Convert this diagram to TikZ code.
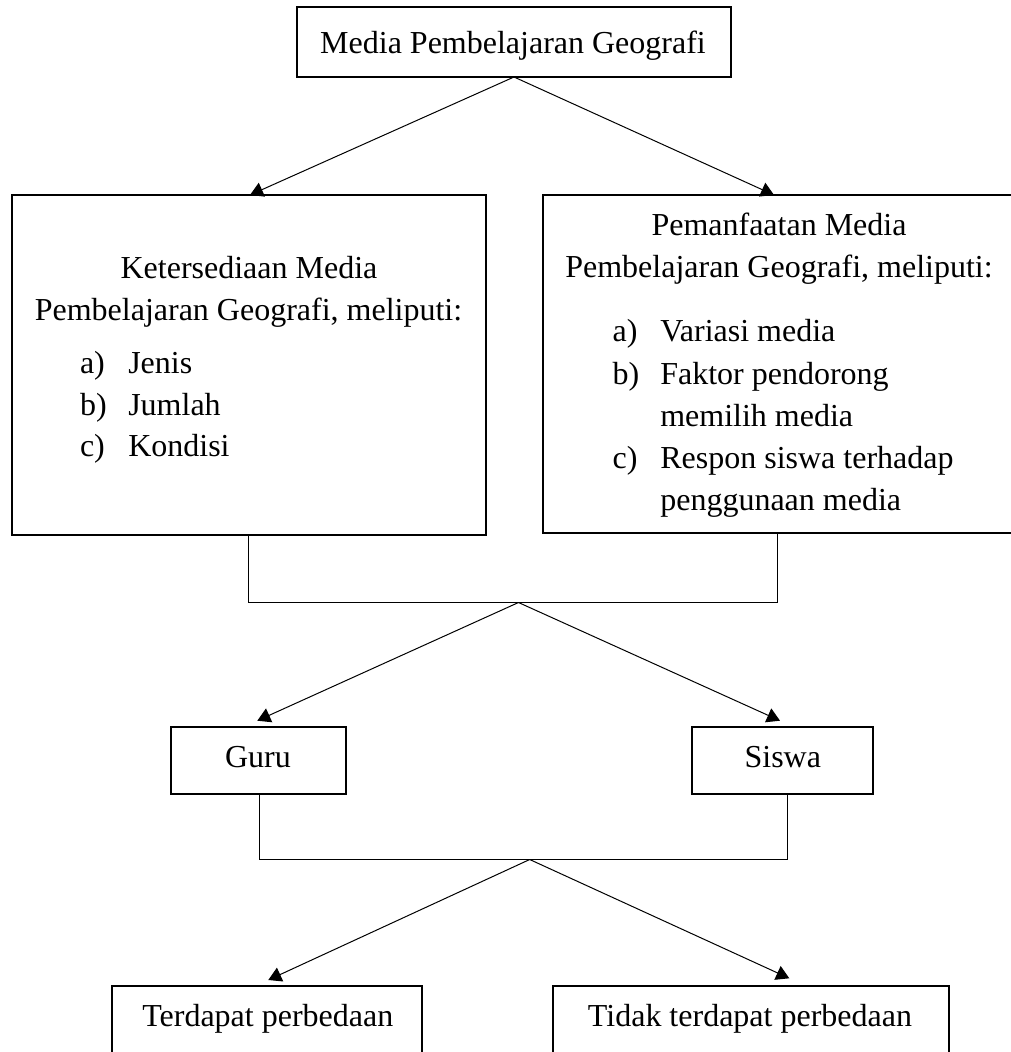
\documentclass[tikz,border=0pt]{standalone}
\usepackage{fontspec}
\setmainfont{Liberation Serif}
\usetikzlibrary{arrows.meta}
\begin{document}
\begin{tikzpicture}[x=1pt,y=-1pt,
  box/.style={draw, line width=2pt, rectangle, inner sep=0pt, outer sep=0pt},
  txt/.style={inner sep=0pt, outer sep=0pt, font=\fontsize{32}{42}\selectfont},
  link/.style={line width=1pt},
  arr/.style={line width=1pt, -{Triangle[length=13pt,width=15pt]}}]
\useasboundingbox (0,0) rectangle (1011,1052);
\clip (0,0) rectangle (1011,1052);

% boxes
\node[box, minimum width=434pt, minimum height=70pt] (top) at (514,42) {};
\node[box, minimum width=474pt, minimum height=340pt] (lb) at (248.7,365) {};
\node[box, minimum width=473.3pt, minimum height=338pt] (rb) at (779.3,364) {};
\node[box, minimum width=175pt, minimum height=67.3pt] (guru) at (258.5,760.3) {};
\node[box, minimum width=181pt, minimum height=67.3pt] (siswa) at (782.8,760.3) {};
\node[box, minimum width=310.6pt, minimum height=90pt] (bl) at (267,1031) {};
\node[box, minimum width=396.3pt, minimum height=90pt] (br) at (750.8,1031) {};

% texts
\node[txt, anchor=base] (toptxt) at (513,53.3) {Media Pembelajaran Geografi};

\node[txt, anchor=base] (lt1) at (249,278.3) {Ketersediaan Media};
\node[txt, anchor=base] (lt2) at (248.5,320) {Pembelajaran Geografi, meliputi:};
\node[txt, anchor=base west] (la) at (80,373.3) {a)};
\node[txt, anchor=base west] (lat) at (128.3,373.3) {Jenis};
\node[txt, anchor=base west] (lb1) at (80,415) {b)};
\node[txt, anchor=base west] (lbt) at (128.3,415) {Jumlah};
\node[txt, anchor=base west] (lc) at (80,456.7) {c)};
\node[txt, anchor=base west] (lct) at (128.3,456.7) {Kondisi};

\node[txt, anchor=base] (rt1) at (779,235) {Pemanfaatan Media};
\node[txt, anchor=base] (rt2) at (779,277) {Pembelajaran Geografi, meliputi:};
\node[txt, anchor=base west] (ra) at (612.7,341.7) {a)};
\node[txt, anchor=base west] (rat) at (660.3,341.7) {Variasi media};
\node[txt, anchor=base west] (rb1) at (612.7,384) {b)};
\node[txt, anchor=base west] (rbt) at (660.3,384) {Faktor pendorong};
\node[txt, anchor=base west] (rbt2) at (660.3,426) {memilih media};
\node[txt, anchor=base west] (rc) at (612.7,468) {c)};
\node[txt, anchor=base west] (rct) at (660.3,468) {Respon siswa terhadap};
\node[txt, anchor=base west] (rct2) at (660.3,510) {penggunaan media};

\node[txt, anchor=base] (gurutxt) at (258,767.3) {Guru};
\node[txt, anchor=base] (siswatxt) at (782.8,767.3) {Siswa};
\node[txt, anchor=base] (bltxt) at (267.8,1026.7) {Terdapat perbedaan};
\node[txt, anchor=base] (brtxt) at (750,1026.7) {Tidak terdapat perbedaan};

% coordinates
\coordinate (t1) at (250,195);
\coordinate (t2) at (774,195);
\coordinate (rbs) at (777.3,533);
\coordinate (j1) at (518.5,602.5);
\coordinate (t3) at (257.3,720.7);
\coordinate (t4) at (780,720.7);
\coordinate (gs) at (259,794);
\coordinate (ss) at (787.3,794);
\coordinate (j2) at (529.7,859.5);
\coordinate (t5) at (268.3,980);
\coordinate (t6) at (789.3,978.3);

% connectors
\draw[arr] (top.south) -- (t1);
\draw[arr] (top.south) -- (t2);
\draw[link] (lb.south) |- (j1) -| (rbs);
\draw[arr] (j1) -- (t3);
\draw[arr] (j1) -- (t4);
\draw[link] (gs) |- (j2) -| (ss);
\draw[arr] (j2) -- (t5);
\draw[arr] (j2) -- (t6);
\end{tikzpicture}
\end{document}
